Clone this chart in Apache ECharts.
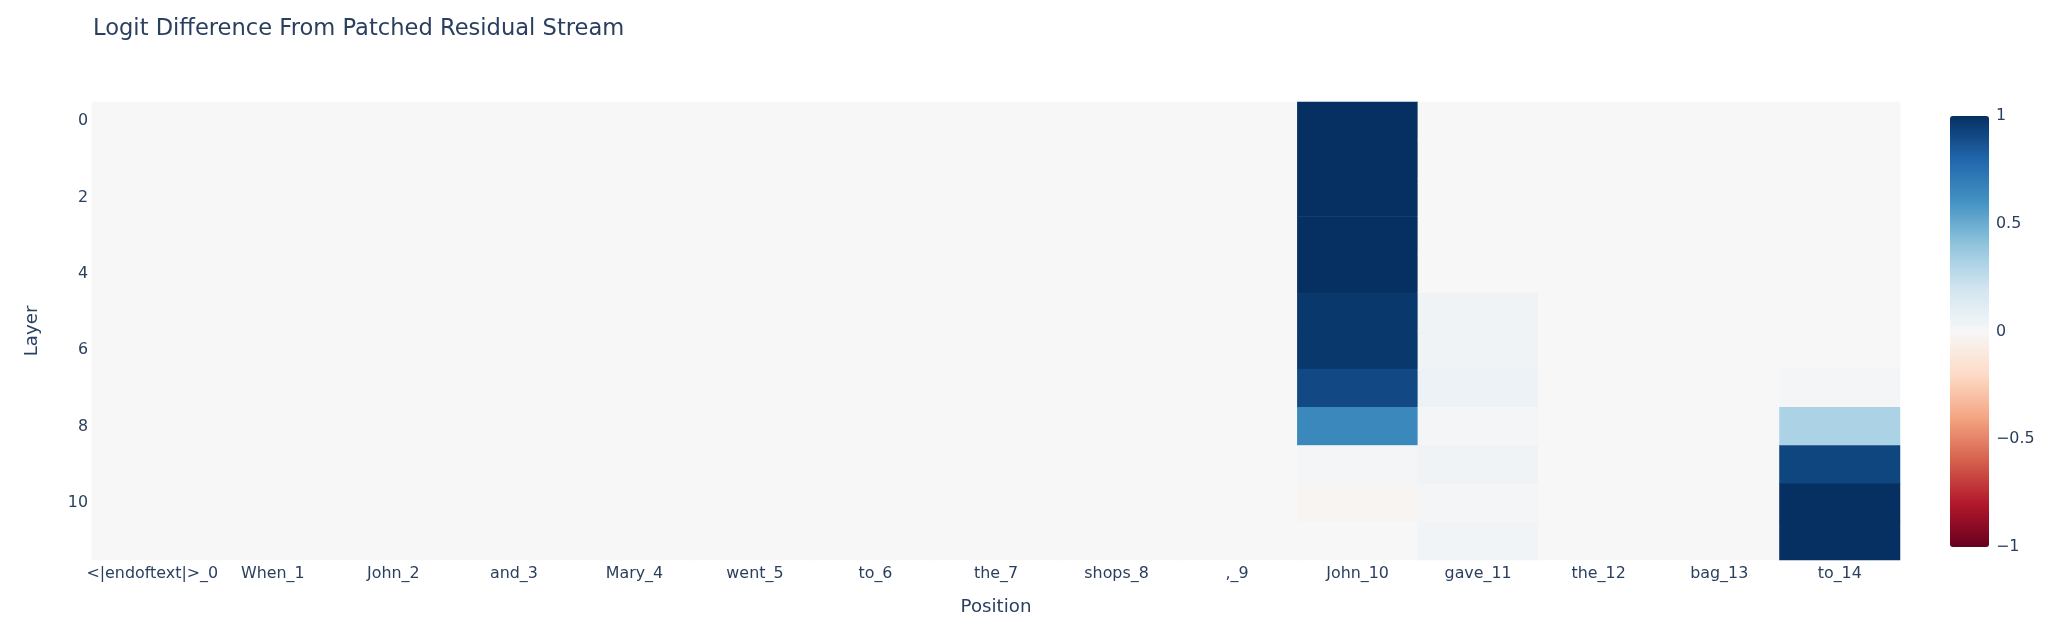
<!DOCTYPE html>
<html>
<head>
<meta charset="utf-8">
<script src="https://cdn.jsdelivr.net/npm/echarts@6/dist/echarts.min.js"></script>
<style>
html,body{margin:0;padding:0;background:#fff;}
#c{width:2048px;height:630px;}
</style>
</head>
<body>
<div id="c"></div>
<script>
// ---- data ----
const positions = ["<|endoftext|>_0","When_1","John_2","and_3","Mary_4","went_5","to_6","the_7","shops_8",",_9","John_10","gave_11","the_12","bag_13","to_14"];
const layers = ["0","1","2","3","4","5","6","7","8","9","10","11"];
// non-zero columns (values per layer 0..11); all other positions are 0
const john10 = [1.0, 1.0, 1.0, 1.0, 1.0, 0.97, 0.97, 0.91, 0.65, 0.02, -0.02, 0.0];
const gave11 = [0, 0, 0, 0, 0, 0.04, 0.04, 0.06, 0.02, 0.04, 0.02, 0.03];
const to14   = [0, 0, 0, 0, 0, 0, 0, 0.02, 0.32, 0.92, 1.0, 1.0];
const colorbarTicks = [-1, -0.5, 0, 0.5, 1];
const rdbu = ['#67001f','#b2182b','#d6604d','#f4a582','#fddbc7','#f7f7f7','#d1e5f0','#92c5de','#4393c3','#2166ac','#053061'];

const columns = {10: john10, 11: gave11, 14: to14};
const heat = [];
for (let x = 0; x < positions.length; x++) {
  for (let y = 0; y < layers.length; y++) {
    const col = columns[x];
    heat.push([x, y, col ? col[y] : 0]);
  }
}

const font = '"DejaVu Sans", Verdana, sans-serif';
const txt = '#2a3f5f';
const chart = echarts.init(document.getElementById('c'), null, {renderer: 'canvas'});
chart.setOption({
  animation: false,
  backgroundColor: '#ffffff',
  title: {
    text: 'Logit Difference From Patched Residual Stream',
    left: 88, top: 13,
    textStyle: {fontFamily: font, fontSize: 22.6, fontWeight: 'normal', color: txt}
  },
  grid: [
    {left: 92, right: 148, top: 102, bottom: 70},
    {left: 1950, width: 39, top: 116, height: 431}
  ],
  xAxis: [
    {
      type: 'category', data: positions, gridIndex: 0,
      name: 'Position', nameLocation: 'middle', nameGap: 38,
      nameTextStyle: {fontFamily: font, fontSize: 18.2, color: txt},
      axisLine: {show: false}, axisTick: {show: false}, splitLine: {show: false},
      axisLabel: {fontFamily: font, fontSize: 15.9, color: txt, margin: 6, interval: 0}
    },
    {type: 'value', gridIndex: 1, show: false, min: 0, max: 1}
  ],
  yAxis: [
    {
      type: 'category', data: layers, gridIndex: 0, inverse: true,
      name: 'Layer', nameLocation: 'middle', nameGap: 51,
      nameTextStyle: {fontFamily: font, fontSize: 18.2, color: txt},
      axisLine: {show: false}, axisTick: {show: false}, splitLine: {show: false},
      axisLabel: {fontFamily: font, fontSize: 15.9, color: txt, margin: 4, interval: 1}
    },
    {
      type: 'value', gridIndex: 1, position: 'right', min: -1, max: 1, interval: 0.5,
      axisLine: {show: false}, axisTick: {show: false}, splitLine: {show: false},
      axisLabel: {fontFamily: font, fontSize: 15.9, color: txt, margin: 7,
        formatter: v => String(v).replace('-', '\u2212')}
    }
  ],
  visualMap: {
    type: 'continuous', min: -1, max: 1, calculable: false, hoverLink: false,
    seriesIndex: 0, orient: 'vertical', left: 1950, top: 116,
    itemWidth: 39, itemHeight: 431, padding: 0, text: null, showLabel: false,
    inRange: {color: rdbu}
  },
  series: [{
    type: 'heatmap', xAxisIndex: 0, yAxisIndex: 0, data: heat,
    progressive: 0, emphasis: {disabled: true},
    itemStyle: {borderWidth: 0}
  }]
});
</script>
</body>
</html>
